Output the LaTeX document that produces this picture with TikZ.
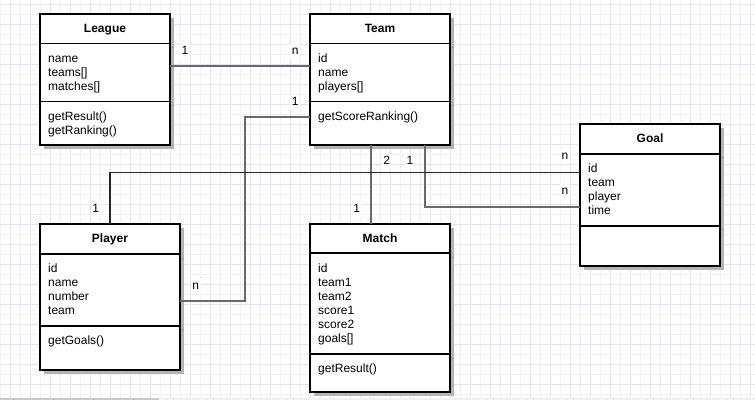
\documentclass[tikz,border=0pt]{standalone}
\usepackage{fontspec}
\setmainfont{Liberation Sans}
\usetikzlibrary{backgrounds}
\definecolor{gridA}{RGB}{226,226,250}
\definecolor{gridB}{RGB}{240,240,252}
\definecolor{shadowgray}{RGB}{180,180,180}
\definecolor{shadowline}{RGB}{150,150,150}
\definecolor{conngray}{RGB}{105,105,105}
\definecolor{barA}{RGB}{200,200,200}
\definecolor{barB}{RGB}{240,240,240}
\tikzset{
  cls/.style={draw=black, line width=1.8pt, fill=white, anchor=north west, inner sep=0pt, outer sep=0pt},
  ttl/.style={font=\fontsize{12}{14}\selectfont\bfseries, text height=9pt, text depth=3pt, inner sep=0pt},
  attr/.style={anchor=west, font=\fontsize{12}{14}\selectfont, text height=9pt, text depth=3pt, inner sep=0pt},
  mult/.style={fill=white, font=\fontsize{12}{14}\selectfont, inner sep=1.5pt, text height=9pt, text depth=3pt},
  sepline/.style={draw=black, line width=1.8pt},
  conn/.style={draw=conngray, line width=1.6pt},
  connblack/.style={draw=black!85, line width=1.8pt},
}
\begin{document}
\begin{tikzpicture}[x=1pt, y=-1pt]
\useasboundingbox (0,0) rectangle (755,400);
% grid
\foreach \x in {0,20,...,740} \draw[gridB, line width=1pt] (\x,0) -- (\x,400);
\foreach \x in {10,30,...,750} \draw[gridA, line width=1pt] (\x,0) -- (\x,400);
\foreach \y in {14,34,...,394} \draw[gridB, line width=1pt] (0,\y) -- (755,\y);
\foreach \y in {4,24,...,384} \draw[gridA, line width=1pt] (0,\y) -- (755,\y);
% bottom bar
\fill[barB] (0,397.5) rectangle (755,400);
\fill[barA] (0,397.5) rectangle (159,400);

% shadows
\fill[shadowgray] (44,18) rectangle (174,149);
\fill[shadowgray] (314,18) rectangle (454,149);
\fill[shadowgray] (584,128) rectangle (724,269.7);
\fill[shadowgray] (44,228) rectangle (184,374);
\fill[shadowgray] (314,228) rectangle (454,395.7);
\foreach \xa/\xb/\yy in {44/174/47.5, 44/174/105.5, 314/454/47.5, 314/454/105.5,
  584/724/157.7, 584/724/229.7, 44/184/258, 44/184/329.7, 314/454/257.3, 314/454/358.3}
  \draw[shadowline, line width=1pt] (\xa,\yy) -- (\xb,\yy);

% class boxes
\node[cls, minimum width=130pt, minimum height=131pt] (league) at (40,14) {};
\node[cls, minimum width=140pt, minimum height=131pt] (team) at (310,14) {};
\node[cls, minimum width=140pt, minimum height=141.7pt] (goal) at (580,124) {};
\node[cls, minimum width=140pt, minimum height=146pt] (player) at (40,224) {};
\node[cls, minimum width=140pt, minimum height=167.7pt] (match) at (310,224) {};

% separators
\coordinate (hl) at (0,43.5);  \coordinate (sl) at (0,101.5);
\coordinate (hg) at (0,153.7); \coordinate (sg) at (0,225.7);
\coordinate (hp) at (0,254);   \coordinate (sp) at (0,325.7);
\coordinate (hm) at (0,253.3); \coordinate (sm) at (0,354.3);
\draw[sepline] (league.west |- hl) -- (league.east |- hl);
\draw[sepline] (league.west |- sl) -- (league.east |- sl);
\draw[sepline] (team.west |- hl) -- (team.east |- hl);
\draw[sepline] (team.west |- sl) -- (team.east |- sl);
\draw[sepline] (goal.west |- hg) -- (goal.east |- hg);
\draw[sepline] (goal.west |- sg) -- (goal.east |- sg);
\draw[sepline] (player.west |- hp) -- (player.east |- hp);
\draw[sepline] (player.west |- sp) -- (player.east |- sp);
\draw[sepline] (match.west |- hm) -- (match.east |- hm);
\draw[sepline] (match.west |- sm) -- (match.east |- sm);

% titles
\node[ttl] (tleague) at (105,29) {League};
\node[ttl] (tteam) at (380,29) {Team};
\node[ttl] (tgoal) at (650,139) {Goal};
\node[ttl] (tplayer) at (110,239) {Player};
\node[ttl] (tmatch) at (380,239) {Match};

% attributes & methods
\node[attr] (l1) at (48,59) {name};
\node[attr] (l2) at (48,73) {teams[]};
\node[attr] (l3) at (48,87) {matches[]};
\node[attr] (l4) at (48,117) {getResult()};
\node[attr] (l5) at (48,131) {getRanking()};

\node[attr] (t1) at (318,59) {id};
\node[attr] (t2) at (318,73) {name};
\node[attr] (t3) at (318,87) {players[]};
\node[attr] (t4) at (318,117) {getScoreRanking()};

\node[attr] (g1) at (588,169) {id};
\node[attr] (g2) at (588,183) {team};
\node[attr] (g3) at (588,197) {player};
\node[attr] (g4) at (588,211) {time};

\node[attr] (p1) at (48,269) {id};
\node[attr] (p2) at (48,283) {name};
\node[attr] (p3) at (48,297) {number};
\node[attr] (p4) at (48,311) {team};
\node[attr] (p5) at (48,341) {getGoals()};

\node[attr] (m1) at (318,269) {id};
\node[attr] (m2) at (318,283) {team1};
\node[attr] (m3) at (318,297) {team2};
\node[attr] (m4) at (318,311) {score1};
\node[attr] (m5) at (318,325) {score2};
\node[attr] (m6) at (318,339) {goals[]};
\node[attr] (m7) at (318,369) {getResult()};

% connectors
\coordinate (ylt) at (0,66);
\coordinate (ytp) at (0,117);
\coordinate (xtp) at (245,0);
\coordinate (ypt) at (0,301);
\coordinate (xtm) at (371,0);
\coordinate (xtg) at (425,0);
\coordinate (ytg) at (0,207);
\coordinate (ypg) at (0,172.5);
\coordinate (bendA) at (xtp |- ytp);
\coordinate (bendB) at (xtp |- ypt);
\draw[conn] (league.east |- ylt) -- (team.west |- ylt);
\draw[conn] (team.west |- ytp) -- (bendA) -- (bendB) -- (player.east |- ypt);
\draw[conn] (team.south -| xtm) -- (match.north -| xtm);
\draw[conn] (team.south -| xtg) |- (goal.west |- ytg);
\draw[connblack] (player.north) |- (goal.west |- ypg);

% multiplicities
\node[mult] (m_lt1) at (185,51) {1};
\node[mult] (m_ltn) at (295.3,51) {n};
\node[mult] (m_tp1) at (295.3,102) {1};
\node[mult] (m_tpn) at (195.7,286) {n};
\node[mult] (m_tm2) at (386.7,161) {2};
\node[mult] (m_tm1) at (356.7,209) {1};
\node[mult] (m_tg1) at (410,161) {1};
\node[mult] (m_tgn) at (565,191.7) {n};
\node[mult] (m_pg1) at (95.7,209) {1};
\node[mult] (m_pgn) at (565,156.7) {n};
\end{tikzpicture}
\end{document}
